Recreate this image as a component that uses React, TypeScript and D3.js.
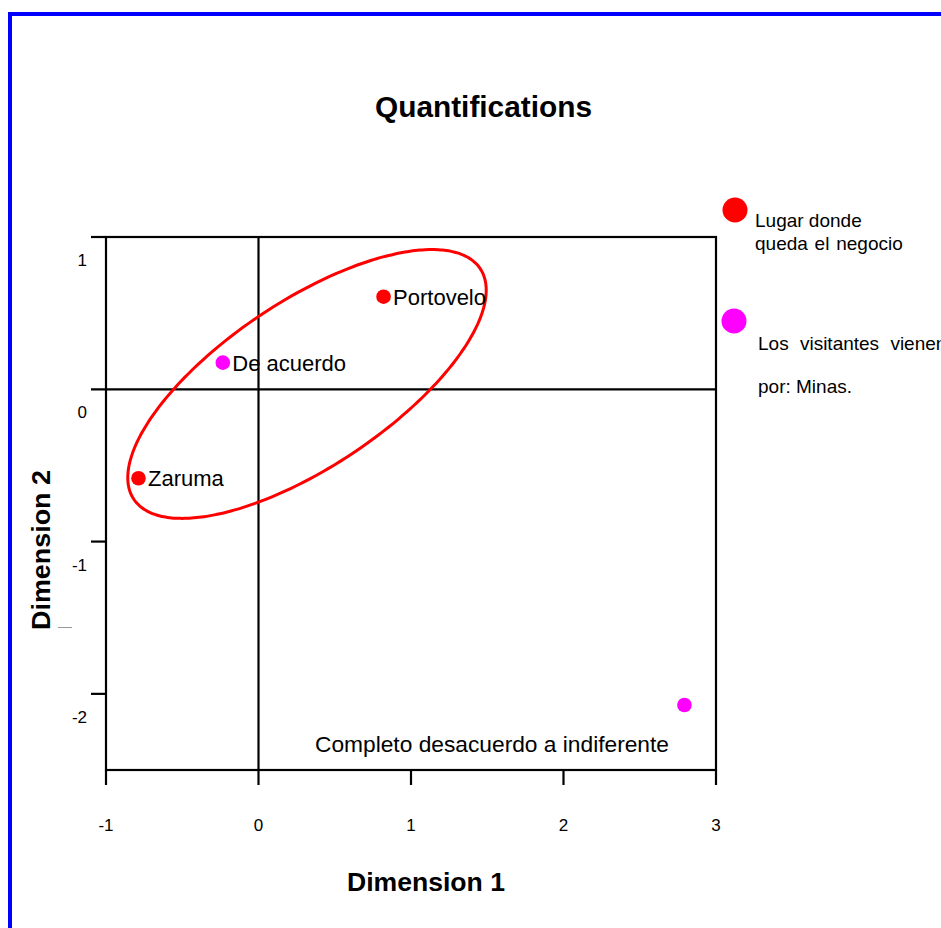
import React from "react";
import * as d3 from "d3";

const xTicks = [-1, 0, 1, 2, 3];
const yTicks = [1, 0, -1, -2];
const xDomain = [-1, 3];
const yDomain = [-2.5, 1];

const pointNames = ["Portovelo", "De acuerdo", "Zaruma", ""];
const pointX = [0.82, -0.234, -0.787, 2.793];
const pointY = [0.608, 0.175, -0.584, -2.073];
const pointGroup = [0, 1, 0, 1];

const groupColors = ["#ff0000", "#ff00ff"];

// ellipse (data units): centre, semi-axes, rotation in degrees
const ellipseCenter = [0.318, 0.035];
const ellipseAxes = [1.365, 0.545];
const ellipseAngle = 33.7;

export default function App() {
  const x = d3.scaleLinear().domain(xDomain).range([106, 716]);
  const y = d3.scaleLinear().domain(yDomain).range([770, 237]);

  const th = (ellipseAngle * Math.PI) / 180;
  const ePts: [number, number][] = d3.range(0, 360, 2).map((deg) => {
    const t = (deg * Math.PI) / 180;
    const px = ellipseAxes[0] * Math.cos(t);
    const py = ellipseAxes[1] * Math.sin(t);
    const dx = ellipseCenter[0] + px * Math.cos(th) - py * Math.sin(th);
    const dy = ellipseCenter[1] + px * Math.sin(th) + py * Math.cos(th);
    return [x(dx), y(dy)];
  });
  const ellipsePath = d3.line().curve(d3.curveCardinalClosed)(ePts) || "";

  const font = "Liberation Sans, Arial, Helvetica, sans-serif";
  const x0 = x.range()[0], x1 = x.range()[1];
  const yb = y.range()[0], yt = y.range()[1];

  return (
    <svg
      width={941}
      height={928}
      style={{ position: "absolute", left: 0, top: 0, background: "#fff" }}
      fontFamily={font}
    >
      <rect x={10} y={14} width={1200} height={1200} fill="none" stroke="#0000ff" strokeWidth={4} />

      <text x={483.5} y={117} textAnchor="middle" fontSize={29} fontWeight="bold" textLength={217} lengthAdjust="spacingAndGlyphs">
        Quantifications
      </text>

      {/* frame */}
      <rect x={x0} y={yt} width={x1 - x0} height={yb - yt} fill="none" stroke="#000" strokeWidth={2.2} />

      {/* y ticks */}
      {yTicks.map((t) => (
        <g key={"y" + t}>
          <line x1={x0 - 15} x2={t === 0 ? x1 : x0} y1={y(t)} y2={y(t)} stroke="#000" strokeWidth={2.2} />
          <text x={87} y={y(t) + 29} textAnchor="end" fontSize={17}>
            {t}
          </text>
        </g>
      ))}

      {/* x ticks */}
      {xTicks.map((t) => (
        <g key={"x" + t}>
          <line x1={x(t)} x2={x(t)} y1={t === 0 ? yt : yb} y2={yb + 15} stroke="#000" strokeWidth={2.2} />
          <text x={x(t)} y={831} textAnchor="middle" fontSize={17}>
            {t}
          </text>
        </g>
      ))}

      <path d={ellipsePath} fill="none" stroke="#ff0000" strokeWidth={3} />

      {pointX.map((px, i) => (
        <g key={"p" + i}>
          <circle cx={x(px)} cy={y(pointY[i])} r={7.3} fill={groupColors[pointGroup[i]]} />
          {pointNames[i] && (
            <text x={x(px) + 9.5} y={y(pointY[i]) + 8} fontSize={22}>
              {pointNames[i]}
            </text>
          )}
        </g>
      ))}

      <text x={315} y={752} fontSize={22.5} textLength={354} lengthAdjust="spacingAndGlyphs">
        Completo desacuerdo a indiferente
      </text>

      <text x={426} y={891} textAnchor="middle" fontSize={26} fontWeight="bold" textLength={158} lengthAdjust="spacingAndGlyphs">
        Dimension 1
      </text>
      <text
        transform="translate(50,550) rotate(-90)"
        textAnchor="middle"
        fontSize={26}
        fontWeight="bold"
        textLength={160}
        lengthAdjust="spacingAndGlyphs"
      >
        Dimension 2
      </text>
      <line x1={58} x2={72} y1={627.5} y2={627.5} stroke="#999" strokeWidth={1} />

      {/* legend */}
      <circle cx={735} cy={210} r={12.5} fill={groupColors[0]} />
      <text x={755} y={227} fontSize={19}>
        Lugar donde
      </text>
      <text x={755} y={250} fontSize={19} wordSpacing={1.5}>
        queda el negocio
      </text>
      <circle cx={734} cy={321} r={12.5} fill={groupColors[1]} />
      <text x={758} y={350} fontSize={19} wordSpacing={6}>
        Los visitantes vienen
      </text>
      <text x={758} y={393} fontSize={19}>
        por: Minas.
      </text>
    </svg>
  );
}
